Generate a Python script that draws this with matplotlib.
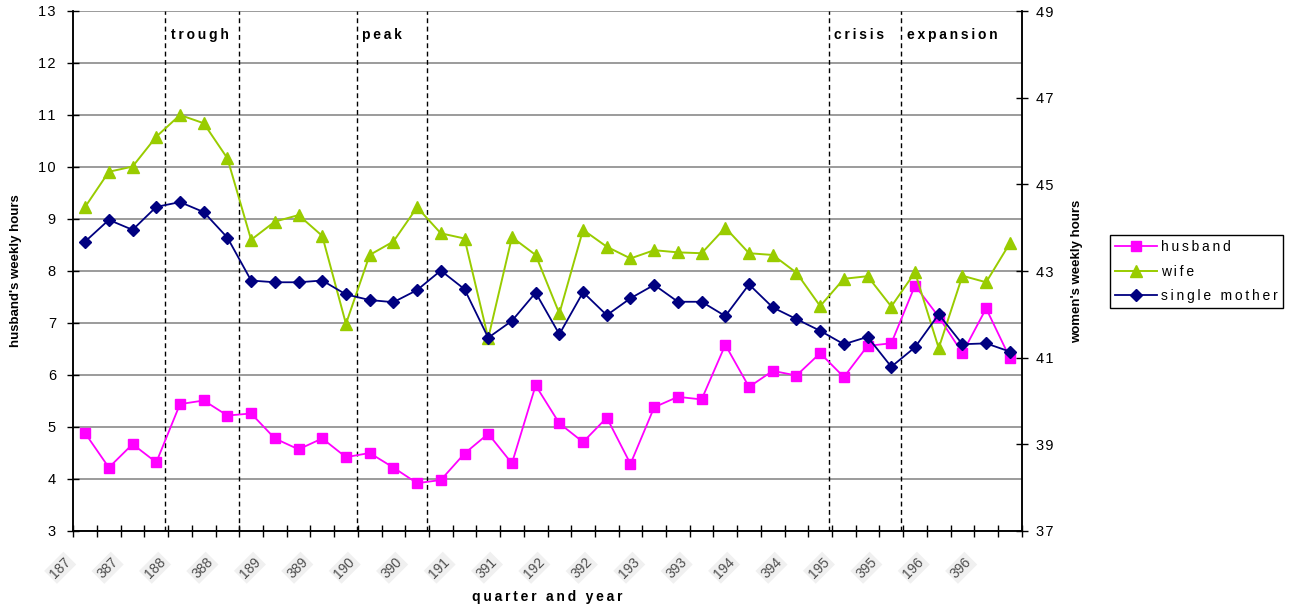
import matplotlib
matplotlib.use('Agg')
import matplotlib.pyplot as plt
import numpy as np

plt.rcParams['font.family'] = ['Liberation Sans', 'DejaVu Sans']

# Quarterly hours, 1st quarter 1987 through 4th quarter 1996
husband = [4.88, 4.22, 4.67, 4.32, 5.44, 5.51, 5.22, 5.26, 4.78, 4.57,
           4.78, 4.42, 4.50, 4.22, 3.92, 3.98, 4.49, 4.87, 4.30, 5.80,
           5.07, 4.71, 5.18, 4.29, 5.38, 5.58, 5.53, 6.58, 5.77, 6.08,
           5.99, 6.42, 5.96, 6.56, 6.61, 7.72, 7.12, 6.42, 7.28, 6.33]
wife = [44.48, 45.29, 45.41, 46.10, 46.60, 46.41, 45.60, 43.72, 44.14, 44.29,
        43.81, 41.78, 43.37, 43.68, 44.47, 43.87, 43.75, 41.45, 43.78, 43.37,
        42.02, 43.95, 43.56, 43.29, 43.48, 43.43, 43.41, 44.00, 43.41, 43.37,
        42.96, 42.19, 42.82, 42.88, 42.18, 42.97, 41.22, 42.89, 42.74, 43.64]
single_mother = [43.68, 44.18, 43.95, 44.48, 44.59, 44.36, 43.77, 42.78, 42.74, 42.74,
                 42.78, 42.46, 42.33, 42.28, 42.56, 43.01, 42.58, 41.46, 41.85, 42.50,
                 41.54, 42.51, 41.98, 42.37, 42.68, 42.29, 42.29, 41.96, 42.69, 42.16,
                 41.89, 41.62, 41.31, 41.48, 40.79, 41.24, 42.00, 41.31, 41.33, 41.14]

x_labels = ['187', '387', '188', '388', '189', '389', '190', '390', '191', '391',
            '192', '392', '193', '393', '194', '394', '195', '395', '196', '396']

left_ticks = [3, 4, 5, 6, 7, 8, 9, 10, 11, 12, 13]
right_ticks = [37, 39, 41, 43, 45, 47, 49]

# business-cycle markers (category position, label)
phase_pos = [3.37, 6.5, 11.45, 14.41, 31.37, 34.41]
phase_text = {3.37: 'trough', 11.45: 'peak', 31.37: 'crisis', 34.41: 'expansion'}


def spaced(s, sp='\u2009'):
    return sp.join(s)


x = np.arange(len(husband))

fig = plt.figure(figsize=(12.92, 6.11), dpi=100)
ax = fig.add_axes([73.3 / 1292, 80 / 611, 948.4 / 1292, 520 / 611])
ax2 = ax.twinx()

ax.set_xlim(-0.5, len(husband) - 0.5)
ax.set_ylim(3, 13)
ax2.set_ylim(37, 49)

# gridlines on the husband scale
ax.set_yticks(left_ticks)
ax.set_yticklabels([spaced(str(t), '\u200a') for t in left_ticks])
ax.grid(axis='y', color='#808080', linewidth=1.1)
ax.set_axisbelow(True)

ax2.set_yticks(right_ticks)
ax2.set_yticklabels([spaced(str(t), '\u200a') for t in right_ticks])

# category ticks on every boundary, label on every second one
ax.set_xticks(np.arange(len(husband) + 1) - 0.5)
lbls = []
for k in range(len(husband) + 1):
    lbls.append(x_labels[k // 2] if k % 2 == 0 and k // 2 < len(x_labels) else '')
ax.set_xticklabels(lbls, rotation=45, ha='right', fontsize=10, color='#4d4d4d')
for t in ax.get_xticklabels():
    if t.get_text():
        t.set_bbox(dict(facecolor='#f0f0f0', edgecolor='none', pad=1.5))

ax.tick_params(axis='x', direction='inout', length=8, width=1, pad=13)
ax.tick_params(axis='y', direction='inout', length=9, width=1, labelsize=10.5, pad=8)
ax2.tick_params(axis='y', direction='inout', length=9, width=1, labelsize=10.5, pad=6)

for a in (ax, ax2):
    a.spines['top'].set_visible(False)
    for s in ('left', 'right', 'bottom'):
        a.spines[s].set_linewidth(1.1)
ax2.patch.set_visible(False)

for p in phase_pos:
    ax.axvline(p, color='black', linestyle=(0, (3.5, 2.5)), linewidth=1.0, zorder=1)
    if p in phase_text:
        ax.annotate(spaced(phase_text[p]), xy=(p, 12.54), xytext=(4, 0),
                    textcoords='offset points', ha='left', va='center',
                    fontsize=10, fontweight='bold')

l1, = ax.plot(x, husband, color='#ff00ff', marker='s', markersize=7,
              linewidth=1.3, label=spaced('husband'), zorder=3)
l2, = ax2.plot(x, wife, color='#99cc00', marker='^', markersize=8.5,
               linewidth=1.4, label=spaced('wife'))
l3, = ax2.plot(x, single_mother, color='#000080', marker='D', markersize=6.3,
               linewidth=1.3, label=spaced('single mother'))

leg = ax2.legend(handles=[l1, l2, l3], loc='upper left',
                 bbox_to_anchor=(1110 / 1292, 1 - 235 / 611),
                 bbox_transform=fig.transFigure, borderaxespad=0,
                 fancybox=False, framealpha=1, edgecolor='black',
                 fontsize=10, handlelength=3.0, handletextpad=0.3,
                 labelspacing=0.75, borderpad=0.38)
leg.get_frame().set_linewidth(1.0)

ax.set_xlabel(spaced('quarter and year'), fontsize=10, fontweight='bold', va='center')
ax.xaxis.set_label_coords(0.5, -0.127)
ax.set_ylabel("husband's weekly hours", fontsize=9.5, fontweight='bold', va='center')
ax.yaxis.set_label_coords(-0.0604, 0.5)
ax2.set_ylabel("women's weekly hours", fontsize=9.5, fontweight='bold',
               va='center', rotation=90)
ax2.yaxis.set_label_coords(1.0583, 0.5)

fig.savefig('out.png', dpi=100)
